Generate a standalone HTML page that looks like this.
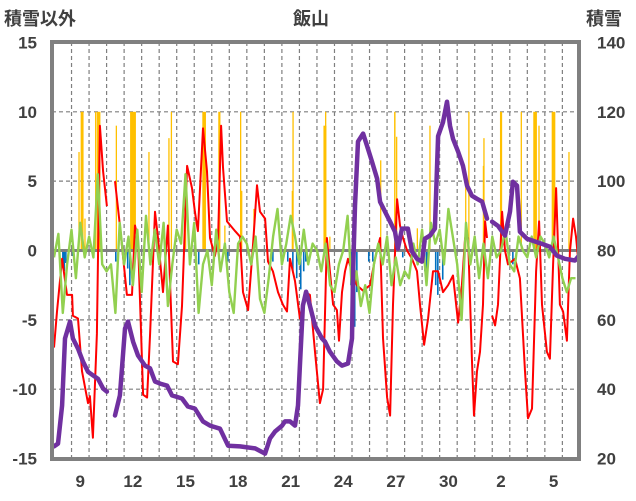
<!DOCTYPE html>
<html><head><meta charset="utf-8">
<style>
html,body{margin:0;padding:0;background:#fff;}
svg{display:block;font-family:"Liberation Sans","Noto Sans CJK JP",sans-serif;}
</style></head>
<body>
<svg id="chart" width="636" height="501" viewBox="0 0 636 501" xmlns="http://www.w3.org/2000/svg">
<text x="311" y="25" text-anchor="middle" font-size="18" font-weight="bold" fill="#404040">飯山</text>
<text x="4" y="25" font-size="18" font-weight="bold" fill="#404040">積雪以外</text>
<text x="586" y="25" font-size="18" font-weight="bold" fill="#404040">積雪</text>
<g id="grid"></g>
<g id="bars"></g>
<g id="lines"></g>
<g id="axes"></g>
</svg>
<script>
const yTicks=[15,10,5,0,-5,-10,-15];
const rTicks=[140,120,100,80,60,40,20];
const xLabels=['9','12','15','18','21','24','27','30','2','5'];
const xLabelDays=[1,4,7,10,13,16,19,22,25,28];
const redT=[0,0.17,0.46,0.74,1.03,1.08,1.37,1.6,1.94,2.05,2.22,2.45,2.62,2.8,3.02,3.2,3.48,3.76,4.16,4.45,4.62,4.79,5.08,5.31,5.48,5.76,5.93,6.22,6.5,6.79,7.07,7.3,7.59,7.87,8.04,8.21,8.5,8.73,8.9,9.18,9.36,9.53,9.64,9.87,10.33,10.61,10.78,11.07,11.35,11.58,11.75,12.04,12.21,12.49,12.78,13.06,13.29,13.46,13.75,14.03,14.32,14.6,14.89,15.17,15.35,15.57,15.74,15.92,16.14,16.26,16.43,16.6,16.77,17,17.28,17.63,18.03,18.31,18.6,18.77,19,19.17,19.34,19.57,19.74,19.91,20.14,20.42,20.71,20.88,21.11,21.34,21.62,21.91,22.19,22.48,22.76,23.05,23.27,23.45,23.62,23.84,23.96,24.13,24.3,24.47,24.59,24.7,24.85,24.99,25.16,25.33,25.56,25.73,25.9,26.3,26.58,26.87,27.04,27.27,27.5,27.67,27.84,28.12,28.29,28.47,28.64,28.86,29.04,29.26,29.43,29.61,29.78,29.9];
const redV=[-7,-4.4,-0.6,-3.2,-3.2,-4.7,-4.9,-8.7,-11,-10.5,-13.5,-6,9,5.7,3.2,null,5,1.8,-3.2,-3.2,1.8,0.8,-10.4,-10.6,-6,2.8,0.9,-3,1.8,-8,-8.2,-4,6.1,4.5,2.8,1.4,8.8,5.7,0.9,-0.4,0.9,9,6,2.1,1.4,1,-3,-4.3,0.4,4.7,2.8,2.3,-0.8,-1.5,-3,-3.9,-4.4,-0.6,-2.2,-4.9,-3,-3.2,-7.3,-11,-10,0.9,-1.5,-3.9,-4.3,-6.5,-3,-1.5,-0.6,-1.5,-2.5,-2.9,-2.5,-0.6,0.9,-6.3,-10.6,-11.9,-3.9,3.7,1.8,0.9,0,-0.6,-1.5,-3.9,-6.8,-4.9,-1.5,-1.5,-3,-2.5,-1.8,-5.2,-2.5,0.9,0.9,-7.8,-11.9,-8.7,-7.3,-3.9,2.1,0.9,null,-4.7,-5.4,-3.9,2.8,0,-1,-0.6,-2,-8.7,-12.1,-11.4,-1.5,2.1,-3.9,-7.3,-7.8,-1,4.5,-3.9,-4.4,-6.5,-0.1,2.3,1,-0.6];
const snowT=[0,0.23,0.46,0.63,0.91,1.08,1.37,1.65,1.94,2.22,2.51,2.8,3.02,3.2,3.48,3.76,4.05,4.22,4.51,4.79,5.19,5.48,5.76,6.05,6.45,6.73,7.3,7.64,8.04,8.5,8.9,9.47,9.93,10.61,11.47,12.04,12.32,12.61,13.01,13.18,13.46,13.75,13.92,14.03,14.2,14.38,14.6,14.89,15.29,15.46,15.74,16.14,16.43,16.77,17,17.06,17.17,17.34,17.63,17.91,18.14,18.43,18.6,18.88,19.17,19.45,19.62,19.85,20.19,20.42,20.71,20.99,21.16,21.45,21.73,21.91,22.19,22.42,22.59,22.76,23.05,23.33,23.56,23.84,24.13,24.42,24.7,24.85,24.99,25.33,25.73,26.01,26.18,26.41,26.58,26.98,27.32,27.84,28.29,28.69,29.15,29.72,29.9];
const snowV=[23.5,24.3,35.3,54.6,59.5,54.6,51.7,48,45,44,43,40.2,39.3,null,32.4,38.2,57.5,59.5,53.7,49.7,46.8,46,42.2,41.6,41,38.2,37.3,35,34.4,30.7,29.5,28.6,23.7,23.5,22.9,21.4,25.8,27.8,29.5,30.7,30.7,29.5,35.3,46.8,64.1,68.1,64.1,58.3,54.6,53.7,50.8,48,46.8,47.4,54.6,73.9,92.9,111.4,113.7,109.3,105.6,100.7,94,91.2,88.3,85.4,80.5,86.3,86.3,79.7,77.6,76.8,83.4,84.3,86.3,113,117,122.9,116,112.2,108.5,104.4,98.7,95.8,94.9,94.1,89.2,null,88.3,87.1,84.3,91.2,99.8,98.7,85.4,83.4,82.8,81.9,81.1,78.5,77.6,77.1,78.2];
const diffV=[-0.5,1.2,-4.5,-1, 1.5,-2,2,-0.5, 1,-0.5,5.5,-1, -1.5,-1,-4.5,2, -1,1,-2.5,1.5, -3,2.5,-1,1.5, -1,2,-4,-1, 1.5,0.5,5.5,-1, 2,-4.5,-1,0, -2.5,1.5,-1.5,0.5, -3,-4.5,0.5,1, 0.5,-1,1,-3.5, -4.5,-2,1,3, -1,0.5,2.5,1, -1,1.5,-1,0.5, 0,-1.5,0.5,-2.5, -3,-1,0,2.5, -3,-1.5,-4,-2.5, -4.5,-1,0.5,-1, 1,-2.5,-0.5,-2.5, -1.5,-2,0.5,-1, 1.5,-2.5,2,0.5, 1.5,-1,3,1, -1,-5,2,-1, 1,-2,0.5,-2, 1,-0.5,0,1.5, -1,-1.5,1,0, -0.5,1,-0.5,1, 0.5,-0.5,1,-0.5, -2,-3,-2,-2];
const snowfallT=[1.39,1.52,1.73,2.34,2.44,3.52,4.34,5.38,6.52,6.66,7.47,8.46,9.37,9.71,10.61,10.67,11.37,13.56,13.6,15.37,15.46,15.7,18.6,19.4,19.51,20.69,21.41,23.45,23.63,24.46,24.49,25.44,26.62,27.34,27.63,28.39,29.34];
const snowfallH=[1,4,1,1,5,1,8,1,1,1,1,5,3,1,1,1,1,2,1,4,1,1,1,2,1,1,1,1,1,1,1,3,1,5,1,5,1];
const snowfallV=[7.1,10,2.3,10,10,9,10,7.1,8.1,10,2.8,10,10,1.8,10,4.3,3,4.3,10,9,10,1,6.5,10,8.2,1.6,9,5.3,10,6.1,8.1,10,10,10,9,10,7.1];
const meltT=[0.46,0.54,0.63,1.03,3.48,4.16,4.28,8.21,9.87,12.44,13.06,13.29,13.58,13.8,14.03,14.2,14.32,16.89,17,17.11,17.23,17.91,18.14,19.85,21.11,21.22,21.73,21.85,22.13,26.13];
const meltV=[-1.2,-1.5,-0.9,-0.4,-0.8,-1.3,-2.5,-1,-0.8,-0.8,-0.5,-0.8,-1.5,-2,-2.8,-1.5,-0.8,-2.5,-4,-5.5,-3,-0.8,-0.8,-0.5,-1.5,-1.8,-2.5,-3.2,-2.1,-1];

const X0=54,DAY=17.53,L=52,R=579,T=42,B=459;
const xS=d=>X0+d*DAY;
const yL=v=>250.5-v*13.87;
const yR=s=>458.5-(s-20)*3.467;
const NS='http://www.w3.org/2000/svg';
function mk(tag,parent,attrs){const e=document.createElementNS(NS,tag);for(const k in attrs)e.setAttribute(k,attrs[k]);parent.appendChild(e);return e;}
const grid=document.getElementById('grid'),bars=document.getElementById('bars'),lines=document.getElementById('lines'),axes=document.getElementById('axes');
yTicks.forEach(v=>{if(v===15||v===-15||v===0)return;
 const l=mk('line',grid,{x1:L,x2:R,y1:yL(v),y2:yL(v),stroke:'#7f7f7f','stroke-width':1.2,'stroke-dasharray':'4,3'});
 
 });
for(let d=1;d<30;d++){
 const l=mk('line',grid,{x1:xS(d),x2:xS(d),y1:T,y2:B,stroke:'#7f7f7f','stroke-width':1.2,'stroke-dasharray':'4,3'});
 
 }
const hw=DAY/24;
snowfallT.forEach((t,i)=>{const w=Math.max(1.3,snowfallH[i]*hw);
 const r=mk('rect',bars,{x:xS(t),y:yL(snowfallV[i]),width:w,height:yL(0)-yL(snowfallV[i]),fill:'#ffc000'});
 
 });
meltT.forEach((t,i)=>{
 const r=mk('rect',bars,{x:xS(t),y:yL(0),width:1.6,height:yL(meltV[i])-yL(0),fill:'#0070c0'});
 
 });
const zl=mk('line',bars,{x1:L,x2:R,y1:yL(0),y2:yL(0),stroke:'#808080','stroke-width':3});


function path(ts,vs,sc){let d='',pen=false;ts.forEach((t,i)=>{const v=vs[i];if(v===null){pen=false;return;}d+=(pen?'L':'M')+xS(t).toFixed(1)+','+sc(v).toFixed(1);pen=true;});return d;}
const red=mk('path',lines,{d:path(redT,redV,yL),fill:'none',stroke:'#ff0000','stroke-width':2,'stroke-linejoin':'round'});


const gT=diffV.map((v,i)=>i/4);
const green=mk('path',lines,{d:path(gT,diffV,yL),fill:'none',stroke:'#92d050','stroke-width':2.4,'stroke-linejoin':'round'});


const pur=mk('path',lines,{d:path(snowT,snowV,yR),fill:'none',stroke:'#7030a0','stroke-width':4.5,'stroke-linejoin':'round','stroke-linecap':'round'});


const fr=mk('rect',axes,{x:L,y:T,width:R-L,height:B-T,fill:'none',stroke:'#808080','stroke-width':4});


yTicks.forEach(v=>{const t=mk('text',axes,{x:37,y:yL(v)+6,'text-anchor':'end','font-size':17,'font-weight':'bold',fill:'#404040'});t.textContent=v;
 
 });
rTicks.forEach(s=>{const t=mk('text',axes,{x:597,y:yR(s)+6,'font-size':17,'font-weight':'bold',fill:'#404040'});t.textContent=s;
 
 });
xLabels.forEach((lab,i)=>{const t=mk('text',axes,{x:xS(xLabelDays[i]+0.5),y:487,'text-anchor':'middle','font-size':17,'font-weight':'bold',fill:'#404040'});t.textContent=lab;
 
 });
</script>
</body></html>
